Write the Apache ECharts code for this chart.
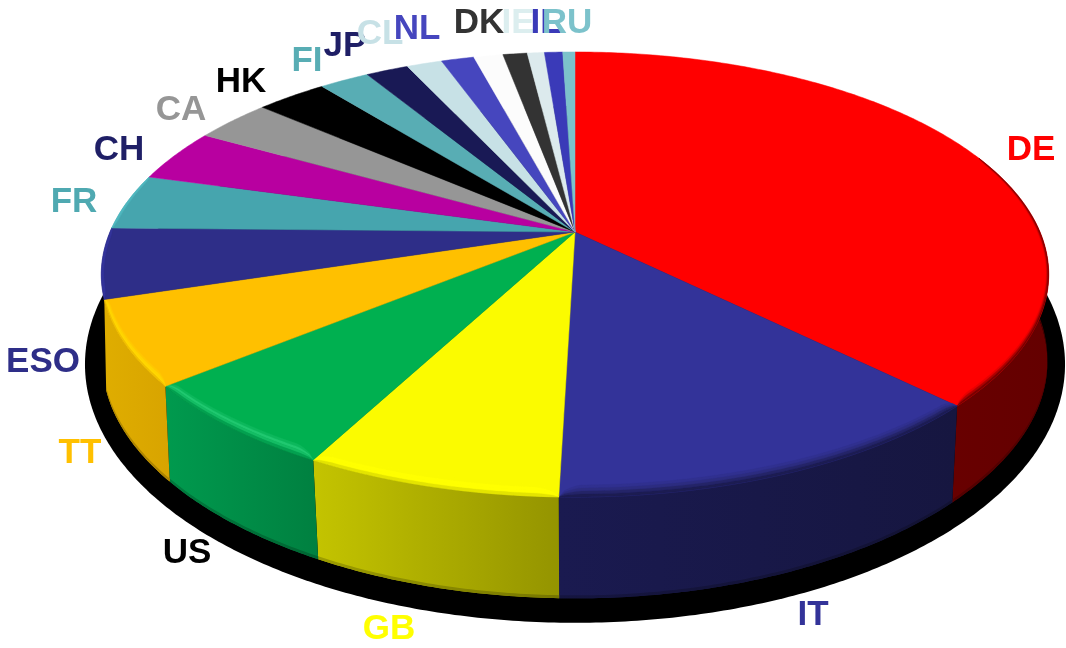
<!DOCTYPE html>
<html><head><meta charset="utf-8">
<style>html,body{margin:0;padding:0;background:#fff}#c{width:1066px;height:648px}</style>
<script src="https://cdn.jsdelivr.net/npm/echarts@6/dist/echarts.min.js"></script>
</head><body><div id="c"></div>
<script>
const categories = ['DE','IT','GB','US','TT','ESO','FR','CH','CA','HK','FI','JP','CL','NL','','DK','IE','IL','RU'];
const values = [37.4,13.05,7.3,6.35,6.1,5.1,4.05,3.85,3.15,2.9,2.05,1.75,1.45,1.35,1.2,1.0,0.7,0.75,0.5];
const topColors = ['#FF0000','#333399','#FBFB00','#00B050','#FFC000','#2E2E88','#46A5AE','#B800A0','#969696','#000000','#58ADB4','#191955','#C7E1E6','#4646BE','#FCFCFC','#333333','#DCEAED','#3A3AB8','#7CC2CB'];
const labelColors = ['#FF0000','#333399','#FFFF00','#000000','#FFC000','#2E2E88','#4FA9B1','#1F1F66','#969696','#000000','#58ADB4','#1F1F66','#C7E1E6','#4646BE','#FFFFFF','#333333','#DCEEEF','#3A3AB8','#7CC2CB'];
const labelAnchors = [[1031,150],[813,615],[389,629],[187,553],[80,453],[43,362],[74,202],[119,150],[181,110],[241,82],[307,61],[345,46],[380,34],[417,29],[450,22],[479,23],[518,23],[546,23],[567,23]];
const wallColors = {0:['#680000','#640000'],1:['#1A1A50','#161640'],2:['#C4C400','#949400'],3:['#009A4E','#008040'],4:['#DFAD00','#D8A400']};
// colour bands across the rim, from inner to outer edge
const bevelBands = {
  0:['#FF0000','#E80000','#B00000','#780000'],
  1:['#30308F','#2C2C80','#242468','#1C1C52'],
  2:['#FBFB00','#FFFF00','#FFFF00','#E4E400'],
  3:['#0CB85C','#20C870','#14BC64','#04A050'],
  4:['#FFC800','#FFD400','#FFD800','#F0C000'],
  5:['#2E2E88','#33339A','#36369F','#333398'],
  6:['#46A5AE','#4CB0B8','#52BAC2','#52BAC2']
};

const CX=575, CY=232, K=0.191;
const topE={a:465,b:214.4,cy:232,sa:0}, botE={a:454,b:226,cy:319,sa:10}, shE={a:481,b:249,cy:315,sa:0};
const total=values.reduce((s,v)=>s+v,0);
const starts=[]; values.reduce((s,v,i)=>{starts[i]=s;return s+v;},0);
const rad=v=>v/total*Math.PI*2;
function P(E,t){const s=Math.sin(t),c=Math.cos(t),d=1+K*c;return [CX+(E.a+E.sa*s*s)*s/d,E.cy-E.b*c/d];}
function arc(E,t0,t1,off,dyUp){
  const n=Math.max(2,Math.ceil((t1-t0)/0.01)),o=[],w=0.035;
  for(let i=0;i<=n;i++){
    const t=t0+(t1-t0)*i/n,p=P(E,t);
    if(off){
      const taper=Math.sqrt(Math.min(1,(t-t0)/w,(t1-t)/w));
      const c=Math.cos(t),s=Math.sin(t);
      p[0]-=off*taper*0.3*s;p[1]+=off*taper*Math.min(0,c);
    }
    if(dyUp)p[1]-=dyUp;
    o.push(p);
  }
  return o;
}
function shade(hex,f){const A=[1,3,5].map(i=>parseInt(hex.substr(i,2),16));return 'rgb('+A.map(v=>Math.round(v*f)).join(',')+')';}

function renderShadow(){
  return {type:'polygon',shape:{points:arc(shE,0,Math.PI*2)},style:{fill:'#000'},silent:true};
}
function renderWall(params,api){
  const i=params.dataIndex; if(!wallColors[i]) return {type:'group',children:[]};
  let t0=rad(api.value(1)),t1=t0+rad(api.value(0));
  if(i===0) t0=Math.PI*0.48;
  const W=wallColors[i];
  const pts=arc(topE,t0,t1).concat(arc(botE,t0,t1).reverse());
  const grad=(a,b)=>({type:'linear',x:0,y:0,x2:1,y2:0,colorStops:[{offset:0,color:a},{offset:1,color:b}]});
  const lip=arc(botE,t0,t1,0,3).concat(arc(botE,t0,t1).reverse());
  return {type:'group',children:[
    {type:'polygon',shape:{points:pts},style:{fill:grad(W[0],W[1])}},
    {type:'polygon',shape:{points:lip},style:{fill:grad(shade(W[0],0.8),shade(W[1],0.8))}}
  ]};
}
function renderTop(params,api){
  const i=params.dataIndex,t0=rad(api.value(1)),t1=t0+rad(api.value(0));
  const col=topColors[i],ch=[];
  ch.push({type:'polygon',shape:{points:[[CX,CY]].concat(arc(topE,t0,t1))},style:{fill:col,stroke:col,lineWidth:0.5}});
  if(bevelBands[i]){
    const lo=Math.max(t0,Math.PI*0.38),hi=Math.min(t1,Math.PI*1.6);
    const edges=[12,9,6,3,0];
    if(hi>lo) bevelBands[i].forEach((c,j)=>{
      ch.push({type:'polygon',shape:{points:arc(topE,lo,hi,edges[j]).concat(arc(topE,lo,hi,edges[j+1]).reverse())},style:{fill:c,stroke:c,lineWidth:0.3}});
    });
  }
  if(categories[i]) ch.push({type:'text',style:{text:categories[i],x:labelAnchors[i][0],y:labelAnchors[i][1],align:'center',verticalAlign:'middle',fill:labelColors[i],font:'bold 35px "Liberation Sans", Arial, sans-serif'},z2:10});
  return {type:'group',children:ch};
}
const rows=values.map((v,i)=>[v,starts[i]]);
const chart=echarts.init(document.getElementById('c'),null,{renderer:'canvas'});
chart.setOption({
  animation:false,backgroundColor:'#fff',
  series:[
    {type:'custom',coordinateSystem:'none',name:'shadow',data:[[1]],renderItem:renderShadow,silent:true,z:1},
    {type:'custom',coordinateSystem:'none',name:'walls',data:rows,renderItem:renderWall,silent:true,z:2},
    {type:'custom',coordinateSystem:'none',name:'tops',data:rows,renderItem:renderTop,silent:true,z:3}
  ]
});
</script></body></html>
